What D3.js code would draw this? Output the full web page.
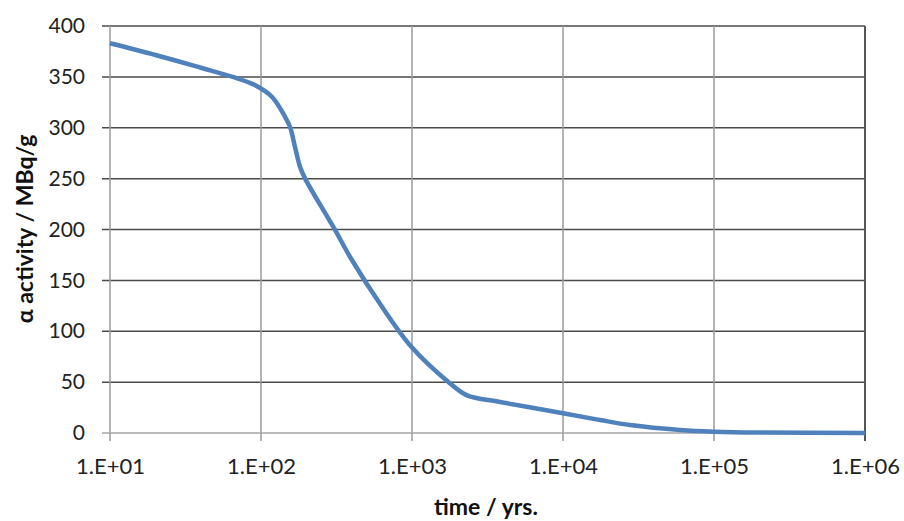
<!DOCTYPE html>
<html>
<head>
<meta charset="utf-8" />
<script src="https://cdn.jsdelivr.net/npm/d3@7"></script>
<style>
  body { margin: 0; background: #fff; }
  svg { font-family: Lato, "Open Sans", sans-serif; }
</style>
</head>
<body>
<svg width="904" height="521"></svg>
<script>
// time (years) vs alpha activity (MBq/g)
var years = [10, 20, 40, 65, 91, 118, 144, 156, 168, 181, 196, 300, 400, 620, 1000, 1780, 2313, 3827, 10000, 17600, 27800, 59600, 100000, 200000, 1000000];
var activity = [383, 371.5, 359, 350, 342, 330.5, 311, 300.5, 281, 262, 250, 203, 170, 126, 84, 49, 37, 30.5, 19.4, 12.8, 7.9, 3, 1.3, 0.4, 0.1];
var yTicks = [0, 50, 100, 150, 200, 250, 300, 350, 400];
var xTicks = [1e1, 1e2, 1e3, 1e4, 1e5, 1e6];
var xTickLabels = ['1.E+01', '1.E+02', '1.E+03', '1.E+04', '1.E+05', '1.E+06'];

var plotLeft = 110, plotRight = 865, plotTop = 26, plotBottom = 433;
var fontFam = 'Lato, "Open Sans", sans-serif';

var svg = d3.select('svg');

var x = d3.scaleLog().domain([10, 1e6]).range([plotLeft, plotRight]);
var y = d3.scaleLinear().domain([0, 400]).range([plotBottom, plotTop]);

// horizontal gridlines
svg.append('g')
  .selectAll('line')
  .data(yTicks.filter(function (d) { return d > 0; }))
  .enter().append('line')
  .attr('x1', plotLeft - 8).attr('x2', plotRight)
  .attr('y1', function (d) { return y(d); })
  .attr('y2', function (d) { return y(d); })
  .attr('stroke', '#4a4a4a')
  .attr('stroke-width', 1.5);

// vertical gridlines
svg.append('g')
  .selectAll('line')
  .data(xTicks)
  .enter().append('line')
  .attr('x1', function (d) { return x(d); })
  .attr('x2', function (d) { return x(d); })
  .attr('y1', plotTop).attr('y2', plotBottom + 8)
  .attr('stroke', function (d) { return d === 1e6 ? '#555' : '#9a9a9a'; })
  .attr('stroke-width', function (d) { return d === 1e6 ? 2 : 1.5; });

// zero line
svg.append('line')
  .attr('x1', plotLeft - 8).attr('x2', plotRight)
  .attr('y1', y(0)).attr('y2', y(0))
  .attr('stroke', '#a6a6a6').attr('stroke-width', 1.5);

// y tick labels
var yAxis = svg.append('g')
  .attr('transform', 'translate(' + plotLeft + ',0)')
  .call(d3.axisLeft(y).tickValues(yTicks).tickSize(0).tickPadding(25));
yAxis.attr('font-family', fontFam);
yAxis.select('.domain').remove();
yAxis.selectAll('text').attr('font-size', 21).attr('fill', '#222');

// x tick labels
var xAxis = svg.append('g')
  .attr('transform', 'translate(0,' + plotBottom + ')')
  .call(d3.axisBottom(x).tickValues(xTicks).tickSize(0).tickPadding(25)
    .tickFormat(function (d, i) { return xTickLabels[i]; }));
xAxis.attr('font-family', fontFam);
xAxis.select('.domain').remove();
xAxis.selectAll('text').attr('font-size', 22).attr('fill', '#222');

// curve
var line = d3.line()
  .x(function (d) { return x(d[0]); })
  .y(function (d) { return y(d[1]); })
  .curve(d3.curveCatmullRom.alpha(0.5));

svg.append('path')
  .datum(years.map(function (t, i) { return [t, activity[i]]; }))
  .attr('d', line)
  .attr('fill', 'none')
  .attr('stroke', '#4f81bd')
  .attr('stroke-width', 4.5)
  .attr('stroke-linejoin', 'round');

// axis titles
svg.append('text')
  .attr('x', 486).attr('y', 515)
  .attr('text-anchor', 'middle')
  .attr('font-size', 23).attr('font-weight', 'bold').attr('fill', '#111')
  .text('time / yrs.');

svg.append('text')
  .attr('transform', 'translate(33,229) rotate(-90)')
  .attr('text-anchor', 'middle')
  .attr('font-size', 23).attr('font-weight', 'bold').attr('fill', '#111')
  .text('α activity / MBq/g');
</script>
</body>
</html>
